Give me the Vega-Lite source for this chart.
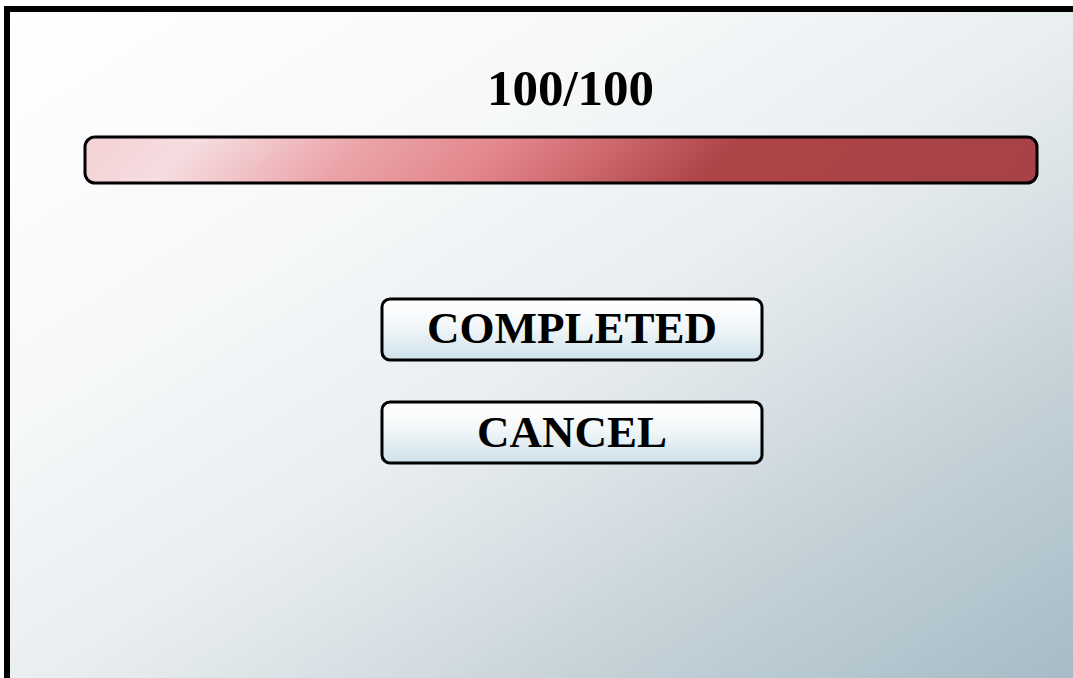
{
  "$schema": "https://vega.github.io/schema/vega-lite/v6.json",
  "width": 1073,
  "height": 678,
  "autosize": {"type": "fit", "contains": "padding"},
  "padding": {"left": 4, "top": 6, "right": -24, "bottom": -24},
  "background": "#ffffff",
  "config": {"view": {"stroke": null}},
  "datasets": {
    "panel": [{"panel": "dialog"}],
    "progress": [{"label": "100/100", "value": 100, "max": 100}],
    "buttons": [{"label": "COMPLETED"}, {"label": "CANCEL"}]
  },
  "resolve": {"scale": {"x": "independent", "y": "independent"}},
  "layer": [
    {
      "data": {"name": "panel"},
      "mark": {
        "type": "rect",
        "stroke": "#000000",
        "strokeWidth": 6,
        "color": {
          "gradient": "linear",
          "x1": 0, "y1": 0, "x2": 1, "y2": 1,
          "stops": [
            {"offset": 0, "color": "#ffffff"},
            {"offset": 0.3, "color": "#f6f8f9"},
            {"offset": 0.5, "color": "#e9eef0"},
            {"offset": 0.6, "color": "#dde4e8"},
            {"offset": 0.75, "color": "#c5d2d8"},
            {"offset": 1, "color": "#a2b9c4"}
          ]
        }
      },
      "encoding": {}
    },
    {
      "data": {"name": "progress"},
      "mark": {
        "type": "rect",
        "cornerRadius": 10,
        "stroke": "#000000",
        "strokeWidth": 3,
        "color": {
          "gradient": "linear",
          "x1": 0, "y1": 0, "x2": 1, "y2": 0.05,
          "stops": [
            {"offset": 0, "color": "#f4d0d4"},
            {"offset": 0.12, "color": "#f6dde0"},
            {"offset": 0.2, "color": "#f1c4c8"},
            {"offset": 0.3, "color": "#eba3a8"},
            {"offset": 0.45, "color": "#e2868c"},
            {"offset": 0.57, "color": "#cb656b"},
            {"offset": 0.69, "color": "#ad4448"},
            {"offset": 1, "color": "#a84246"}
          ]
        }
      },
      "encoding": {
        "x": {"field": "value", "type": "quantitative", "scale": {"domain": [0, 100], "range": [78, 1030], "nice": false}, "axis": null},
        "x2": {"datum": 0},
        "y": {"field": "label", "type": "nominal", "scale": {"type": "band", "range": [128, 174], "paddingInner": 0, "paddingOuter": 0}, "axis": null}
      }
    },
    {
      "data": {"name": "progress"},
      "mark": {"type": "text", "font": "Liberation Serif", "fontSize": 51, "fontWeight": "bold", "color": "#000000", "align": "center", "baseline": "middle"},
      "encoding": {
        "text": {"field": "label", "type": "nominal"},
        "x": {"datum": 51, "type": "quantitative", "scale": {"domain": [0, 100], "range": [78, 1030], "nice": false}, "axis": null},
        "y": {"field": "label", "type": "nominal", "scale": {"type": "band", "range": [59, 103], "paddingInner": 0, "paddingOuter": 0}, "axis": null}
      }
    },
    {
      "data": {"name": "buttons"},
      "mark": {
        "type": "rect",
        "cornerRadius": 8,
        "stroke": "#000000",
        "strokeWidth": 3,
        "color": {
          "gradient": "linear",
          "x1": 0, "y1": 0, "x2": 0, "y2": 1,
          "stops": [
            {"offset": 0, "color": "#ffffff"},
            {"offset": 0.45, "color": "#f3f7f9"},
            {"offset": 1, "color": "#cde0ea"}
          ]
        }
      },
      "encoding": {
        "x": {"datum": "button", "type": "nominal", "scale": {"type": "band", "domain": ["button"], "range": [375, 755], "paddingInner": 0, "paddingOuter": 0}, "axis": null},
        "y": {"field": "label", "type": "nominal", "sort": null, "scale": {"type": "band", "domain": ["COMPLETED", "CANCEL"], "range": [290, 454], "paddingInner": 0.408, "paddingOuter": 0}, "axis": null}
      }
    },
    {
      "data": {"name": "buttons"},
      "mark": {"type": "text", "font": "Liberation Serif", "fontSize": 45, "fontWeight": "bold", "color": "#000000", "align": "center", "baseline": "middle"},
      "encoding": {
        "text": {"field": "label", "type": "nominal"},
        "x": {"datum": "button", "type": "nominal", "scale": {"type": "band", "domain": ["button"], "range": [375, 755], "paddingInner": 0, "paddingOuter": 0}, "axis": null},
        "y": {"field": "label", "type": "nominal", "sort": null, "scale": {"type": "band", "domain": ["COMPLETED", "CANCEL"], "range": [290, 454], "paddingInner": 0.408, "paddingOuter": 0}, "axis": null}
      }
    }
  ]
}
